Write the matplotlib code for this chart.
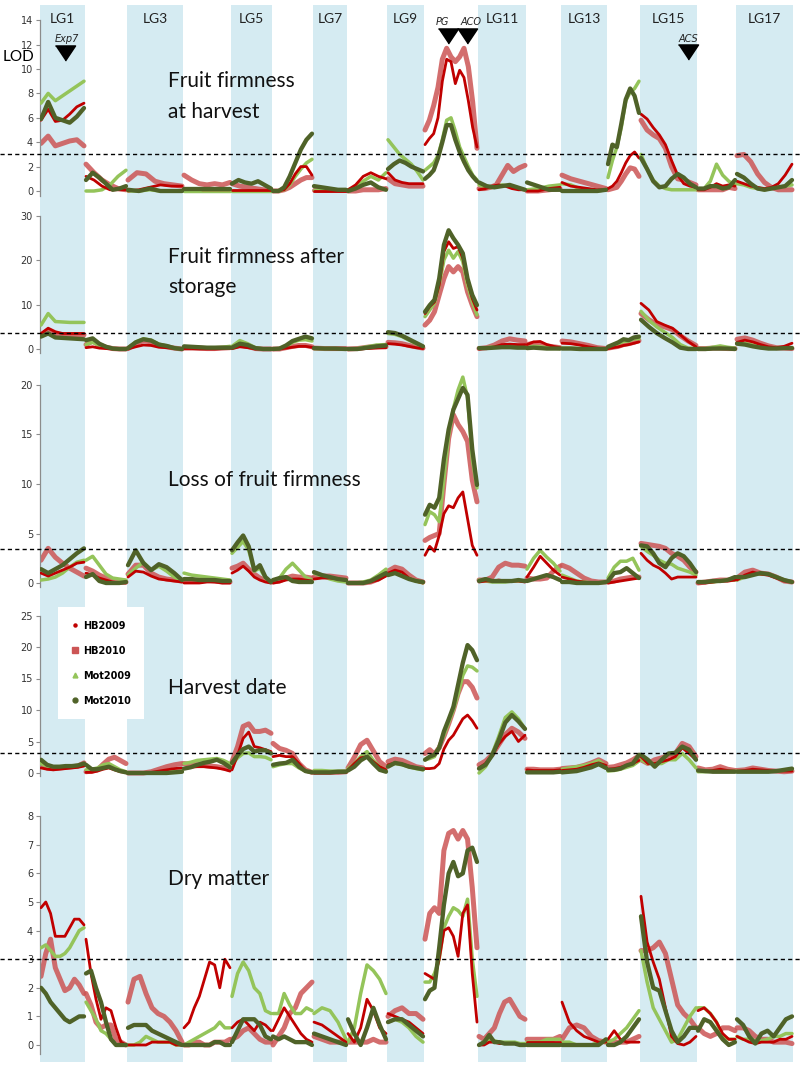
import matplotlib
matplotlib.use('Agg')
import matplotlib.pyplot as plt
import matplotlib.transforms as mtransforms
from matplotlib.lines import Line2D
import numpy as np

# ===================== linkage groups =====================
lg_names = [f'LG{i}' for i in range(1, 18)]
lg_length = [45, 42, 56, 48, 41, 41, 34, 40, 37, 54, 48, 35, 46, 33, 57, 39, 57]
series_names = ['HB2009', 'HB2010', 'Mot2009', 'Mot2010']

# gene markers on the map
gene_names = ['Exp7', 'PG', 'ACO', 'ACS']
gene_pos = [65, 448, 467, 688]

# ===================== Fruit firmness at harvest =====================
ffh_hb2009 = [[5.8, 6.7, 5.7, 5.8, 6.3, 6.9, 7.2], [1.2, 0.9, 0.4, 0.1, 0.1, 0.1], [0.0, 0.1, 0.3, 0.5, 0.4, 0.4],
              [0.2, 0.2, 0.1, 0.1, 0.1, 0.1], [0.1, 0.1, 0.1, 0.1, 0.1], [0.0, 0.0, 0.1, 0.6, 1.4, 2.0, 2.0, 1.3],
              [0.0, 0.0, 0.0, 0.0, 0.0], [0.1, 0.5, 1.2, 1.5, 1.2, 1.0], [1.5, 0.9, 0.7, 0.6, 0.6, 0.6],
              [3.8, 4.3, 4.7, 6.0, 9.0, 10.8, 10.6, 8.8, 9.9, 9.3, 7.4, 5.2, 3.6], [0.1, 0.2, 0.4, 0.5, 0.4, 0.2, 0.1, 0.1],
              [0.0, 0.0, 0.2, 0.3], [0.7, 0.4, 0.3, 0.2, 0.1, 0.1], [0.2, 0.4, 0.8, 1.5, 2.3, 2.9, 3.2, 2.7],
              [6.3, 5.9, 5.2, 4.6, 3.8, 2.5, 1.3, 0.6, 0.4, 0.3], [0.1, 0.1, 0.3, 0.6, 0.4, 0.5, 0.4],
              [0.8, 0.6, 0.4, 0.3, 0.2, 0.3, 0.6, 1.3, 2.2]]
ffh_hb2010 = [[3.9, 4.5, 3.7, 3.9, 4.1, 4.2, 3.7], [2.2, 1.5, 0.9, 0.5, 0.2, 0.1], [0.9, 1.5, 1.4, 0.8, 0.6, 0.5, 0.4],
              [1.3, 0.9, 0.6, 0.5, 0.6, 0.5, 0.7], [0.6, 0.4, 0.3, 0.2, 0.1, 0.1], [0.0, 0.0, 0.1, 0.3, 0.6, 0.9, 1.1, 1.1],
              [0.1, 0.1, 0.1, 0.1, 0.1], [0.0, 0.0, 0.1, 0.1, 0.1, 0.2], [1.0, 0.6, 0.5, 0.4, 0.4, 0.4],
              [5.0, 5.8, 7.0, 8.5, 10.8, 11.7, 11.0, 10.6, 11.0, 11.7, 10.2, 7.3, 3.5], [0.2, 0.2, 0.3, 0.5, 1.3, 2.1, 1.6, 1.9, 2.1],
              [0.0, 0.0, 0.1, 0.2], [1.3, 1.0, 0.8, 0.6, 0.4, 0.2], [0.1, 0.2, 0.3, 0.8, 1.4, 1.9, 1.8, 1.2],
              [5.8, 5.0, 4.6, 4.3, 3.5, 2.0, 1.0, 0.9, 0.7, 0.5], [0.1, 0.1, 0.1, 0.1, 0.1, 0.3, 0.2],
              [2.9, 3.0, 2.4, 1.4, 0.7, 0.3, 0.1, 0.1, 0.1]]
ffh_mot2009 = [[7.2, 8.0, 7.4, 7.8, 8.2, 8.6, 9.0], [0.0, 0.0, 0.1, 0.5, 1.2, 1.7], [0.0, 0.0, 0.1, 0.0, 0.0, 0.0],
               [0.0, 0.0, 0.0, 0.0, 0.0, 0.0], [0.0, 0.0, 0.0, 0.0, 0.0], [0.0, 0.0, 0.1, 0.5, 1.2, 1.8, 2.3, 2.6],
               [0.1, 0.1, 0.1, 0.1, 0.1], [0.1, 0.3, 0.8, 1.2, 0.9, 1.5], [4.2, 3.6, 3.0, 2.6, 2.2, 1.6, 0.9],
               [1.7, 2.0, 2.3, 2.9, 4.2, 5.8, 6.0, 4.9, 3.6, 2.8, 2.0, 1.3, 0.9], [0.5, 0.3, 0.3, 0.5, 0.4, 0.2, 0.1],
               [0.1, 0.2, 0.4, 0.5], [0.6, 0.5, 0.2, 0.1, 0.0, 0.1], [1.1, 2.5, 3.6, 5.2, 7.4, 8.1, 8.4, 9.0],
               [3.0, 1.8, 0.9, 0.4, 0.2, 0.1, 0.1, 0.1, 0.1, 0.1], [0.1, 0.2, 0.8, 2.2, 1.3, 0.8, 0.5],
               [0.6, 0.5, 0.3, 0.2, 0.1, 0.2, 0.3, 0.4, 0.5]]
ffh_mot2010 = [[5.9, 7.3, 6.0, 5.8, 5.6, 6.1, 6.8], [0.9, 1.5, 1.1, 0.6, 0.1, 0.2, 0.4], [0.1, 0.0, 0.2, 0.0, 0.0, 0.0],
               [0.2, 0.2, 0.2, 0.2, 0.2, 0.2], [0.6, 0.9, 0.7, 0.6, 0.8, 0.5, 0.2], [0.0, 0.0, 0.3, 1.2, 2.3, 3.4, 4.2, 4.7],
               [0.4, 0.3, 0.2, 0.1, 0.1], [0.0, 0.2, 0.5, 0.7, 0.3, 0.1], [1.8, 2.2, 2.5, 2.3, 2.0, 1.8, 1.6],
               [1.0, 1.3, 1.7, 2.7, 4.0, 5.4, 5.4, 4.2, 3.2, 2.4, 1.7, 1.2, 0.8], [0.7, 0.4, 0.3, 0.4, 0.5, 0.3, 0.1],
               [0.7, 0.4, 0.1, 0.1], [0.0, 0.0, 0.0, 0.0, 0.0, 0.1], [2.2, 3.8, 3.6, 5.5, 7.5, 8.4, 7.8, 6.4],
               [2.7, 1.8, 0.8, 0.3, 0.4, 1.0, 1.4, 1.1, 0.6, 0.3], [0.2, 0.2, 0.4, 0.4, 0.2, 0.3, 0.9],
               [1.4, 1.1, 0.6, 0.2, 0.1, 0.2, 0.3, 0.4, 0.9]]

# ===================== Fruit firmness after storage =====================
ffs_hb2009 = [[3.5, 4.7, 3.9, 3.5, 3.5, 3.5, 3.5], [0.3, 0.5, 0.2, 0.1, 0.0, 0.0, 0.0], [0.0, 0.5, 0.9, 0.8, 0.4, 0.3, 0.1, 0.0],
              [0.1, 0.1, 0.0, 0.0, 0.0, 0.1, 0.2], [0.1, 0.5, 0.3, 0.0, 0.0, 0.0], [0.0, 0.0, 0.2, 0.4, 0.6, 0.6, 0.4],
              [0.1, 0.1, 0.0, 0.0], [0.0, 0.0, 0.1, 0.2, 0.3], [1.2, 1.1, 0.9, 0.6, 0.3, 0.1],
              [8.0, 9.6, 10.6, 14.4, 22.0, 24.2, 22.7, 23.1, 20.5, 15.2, 11.4, 8.8], [0.0, 0.2, 0.5, 1.0, 1.1, 1.0, 1.0],
              [1.0, 1.6, 1.7, 1.0, 0.6, 0.3], [1.3, 1.2, 0.9, 0.5, 0.2, 0.0], [0.1, 0.3, 0.5, 0.8, 1.0, 1.3, 1.6],
              [10.3, 8.8, 6.2, 5.4, 4.7, 3.2, 1.7, 0.5], [0.0, 0.0, 0.1, 0.2, 0.1, 0.0], [1.5, 2.0, 1.6, 1.0, 0.5, 0.3, 0.6, 1.3]]
ffs_hb2010 = [[3.0, 4.2, 3.3, 3.2, 3.2, 3.2, 3.2], [1.0, 1.8, 0.9, 0.4, 0.1, 0.0, 0.0], [0.1, 1.2, 1.9, 1.6, 0.8, 0.5, 0.2, 0.0],
              [0.2, 0.2, 0.2, 0.1, 0.1, 0.2, 0.3], [0.3, 0.9, 0.6, 0.1, 0.0, 0.0], [0.0, 0.0, 0.3, 0.6, 0.8, 0.8, 0.5],
              [0.2, 0.1, 0.1, 0.1], [0.0, 0.1, 0.4, 0.6, 0.5], [1.5, 1.4, 1.2, 0.8, 0.5, 0.2],
              [5.4, 6.5, 8.4, 12.2, 15.9, 18.6, 17.4, 18.6, 17.4, 12.9, 9.9, 7.3], [0.1, 0.3, 0.9, 1.8, 2.3, 2.0, 1.8],
              [1.0, 1.3, 1.0, 0.7, 0.5, 0.3], [1.8, 1.6, 1.2, 0.8, 0.3, 0.1], [0.2, 0.4, 0.6, 1.0, 1.2, 1.5, 1.9],
              [8.0, 6.6, 5.5, 5.0, 4.4, 3.0, 1.8, 0.8], [0.1, 0.1, 0.2, 0.2, 0.1, 0.1], [2.2, 2.5, 2.0, 1.3, 0.7, 0.3, 0.2, 0.1]]
ffs_mot2009 = [[5.4, 8.0, 6.2, 6.1, 6.0, 6.0, 6.0], [1.0, 1.5, 0.8, 0.4, 0.1, 0.0, 0.0], [0.2, 1.6, 2.3, 2.0, 1.1, 0.7, 0.2, 0.0],
               [0.4, 0.4, 0.3, 0.3, 0.3, 0.4, 0.6], [0.6, 1.9, 1.2, 0.3, 0.0, 0.0], [0.0, 0.1, 0.6, 1.5, 2.0, 2.1, 1.8],
               [0.1, 0.1, 0.1, 0.0], [0.0, 0.1, 0.5, 0.9, 1.0], [3.5, 3.3, 2.8, 2.0, 1.2, 0.5],
               [7.3, 8.8, 10.3, 14.4, 20.1, 22.3, 20.5, 22.0, 19.7, 14.4, 10.7, 7.7], [0.2, 0.3, 0.5, 0.6, 0.7, 0.5, 0.4],
               [0.3, 0.6, 0.5, 0.3, 0.2, 0.1], [0.2, 0.2, 0.1, 0.0, 0.0, 0.0], [0.4, 0.8, 1.2, 1.7, 1.8, 2.3, 2.3],
               [8.5, 6.5, 5.0, 3.8, 2.6, 1.0, 0.2, 0.1], [0.1, 0.1, 0.4, 0.7, 0.4, 0.2], [1.4, 1.3, 0.9, 0.5, 0.3, 0.3, 0.3, 0.3]]
ffs_mot2010 = [[2.8, 3.5, 2.6, 2.5, 2.4, 2.3, 2.2], [2.0, 2.4, 1.2, 0.5, 0.1, 0.0, 0.0], [0.2, 1.5, 2.2, 1.9, 1.0, 0.7, 0.2, 0.0],
               [0.6, 0.5, 0.4, 0.3, 0.3, 0.3, 0.3], [0.3, 1.2, 0.9, 0.2, 0.0, 0.0], [0.0, 0.1, 0.8, 1.8, 2.3, 2.8, 2.4],
               [0.2, 0.1, 0.1, 0.0], [0.0, 0.0, 0.3, 0.6, 0.8], [3.8, 3.6, 3.0, 2.2, 1.4, 0.6],
               [8.4, 9.9, 11.1, 15.9, 23.5, 26.8, 25.0, 23.5, 21.6, 15.9, 12.2, 9.9], [0.2, 0.2, 0.3, 0.4, 0.4, 0.3, 0.3],
               [0.2, 0.3, 0.2, 0.1, 0.1, 0.1], [0.1, 0.1, 0.0, 0.0, 0.0, 0.0], [0.5, 1.0, 1.5, 2.2, 2.0, 2.6, 2.8],
               [6.6, 5.0, 3.6, 2.5, 1.5, 0.3, 0.0, 0.0], [0.0, 0.0, 0.1, 0.1, 0.1, 0.0], [1.2, 1.0, 0.6, 0.3, 0.1, 0.1, 0.2, 0.2]]

# ===================== Loss of fruit firmness =====================
loss_hb2009 = [[1.0, 0.7, 1.0, 1.3, 1.6, 2.0, 2.1], [1.0, 0.8, 0.5, 0.3, 0.1, 0.0, 0.0], [0.6, 1.2, 1.1, 0.7, 0.4, 0.3, 0.2, 0.1],
               [0.0, 0.0, 0.0, 0.1, 0.1, 0.0, 0.0], [1.0, 1.3, 1.7, 1.2, 0.6, 0.3, 0.1, 0.0], [0.0, 0.1, 0.3, 0.4, 0.4, 0.3, 0.2],
               [0.4, 0.5, 0.5, 0.4, 0.3], [0.0, 0.0, 0.0, 0.1, 0.3, 0.7], [1.0, 1.3, 1.1, 0.5, 0.2, 0.0],
               [2.8, 3.7, 3.2, 4.8, 7.0, 7.8, 7.6, 8.6, 9.2, 6.5, 3.8, 2.8], [0.1, 0.2, 0.2, 0.3, 0.2, 0.2, 0.2, 0.1],
               [0.6, 1.6, 2.7, 2.0, 1.3, 0.8], [0.6, 0.4, 0.2, 0.1, 0.0, 0.0, 0.1], [0.0, 0.1, 0.2, 0.3, 0.4, 0.5],
               [3.0, 2.3, 1.8, 1.5, 1.0, 0.4, 0.6, 0.6, 0.6, 0.6], [0.0, 0.0, 0.1, 0.2, 0.2, 0.3],
               [0.3, 0.8, 1.1, 0.9, 0.8, 0.5, 0.2, 0.1]]
loss_hb2010 = [[2.3, 3.5, 2.6, 2.0, 1.5, 1.1, 0.7], [1.5, 1.2, 0.8, 0.5, 0.2, 0.1, 0.1], [0.9, 1.8, 1.8, 1.0, 0.6, 0.4, 0.3, 0.2],
               [0.2, 0.2, 0.3, 0.3, 0.2, 0.1, 0.1], [1.5, 1.7, 2.0, 1.4, 0.9, 0.5, 0.3, 0.1], [0.1, 0.2, 0.5, 0.7, 0.6, 0.6, 0.5],
               [0.6, 0.7, 0.7, 0.6, 0.5], [0.0, 0.0, 0.0, 0.1, 0.4, 0.9], [1.2, 1.6, 1.4, 0.8, 0.3, 0.1],
               [4.3, 4.6, 4.8, 5.0, 10.0, 14.6, 17.0, 16.0, 15.3, 14.3, 10.4, 8.2], [0.3, 0.3, 0.6, 1.6, 2.0, 1.8, 1.8, 1.7],
               [0.5, 0.4, 0.4, 0.5, 1.2, 1.7], [1.8, 1.5, 1.0, 0.5, 0.2, 0.1, 0.1], [0.1, 0.2, 0.4, 0.5, 0.6, 0.6],
               [4.0, 3.9, 3.8, 3.7, 3.5, 3.0, 2.7, 2.3, 1.6, 1.1], [0.0, 0.1, 0.2, 0.3, 0.3, 0.4],
               [0.5, 1.1, 1.3, 1.0, 0.9, 0.6, 0.2, 0.1]]
loss_mot2009 = [[0.3, 0.4, 0.6, 1.0, 1.6, 2.1, 2.3], [2.3, 2.7, 1.8, 0.9, 0.5, 0.4, 0.3], [0.8, 1.5, 2.1, 1.3, 1.7, 1.2, 0.6, 0.2],
                [1.0, 0.8, 0.7, 0.6, 0.5, 0.4, 0.3], [3.0, 3.6, 4.2, 3.3, 1.2, 1.5, 0.5, 0.1], [0.2, 0.5, 1.4, 2.0, 1.3, 0.6, 0.3],
                [1.0, 0.7, 0.4, 0.2, 0.1], [0.0, 0.0, 0.1, 0.3, 0.8, 1.4], [0.9, 1.1, 0.8, 0.5, 0.2, 0.0],
                [5.9, 7.2, 6.9, 6.2, 10.5, 14.9, 17.6, 19.5, 20.8, 18.7, 12.5, 9.6], [0.3, 0.2, 0.1, 0.1, 0.1, 0.2, 0.2, 0.2],
                [1.4, 2.5, 3.3, 2.6, 2.0, 1.2], [0.8, 0.5, 0.2, 0.1, 0.0, 0.0, 0.1], [0.5, 1.6, 2.2, 2.2, 2.5, 1.3],
                [3.7, 3.2, 2.8, 2.3, 2.0, 1.9, 1.5, 1.3, 1.1, 0.8], [0.1, 0.1, 0.1, 0.2, 0.3, 0.3],
                [0.3, 0.6, 0.9, 0.9, 0.9, 0.6, 0.3, 0.1]]
loss_mot2010 = [[1.4, 1.0, 1.4, 1.8, 2.4, 3.0, 3.5], [0.6, 0.9, 0.2, 0.0, 0.0, 0.0, 0.1], [1.8, 3.3, 2.0, 1.3, 1.9, 1.6, 1.0, 0.3],
                [0.4, 0.4, 0.3, 0.3, 0.3, 0.2, 0.2], [3.3, 4.1, 4.8, 3.7, 1.3, 1.8, 0.6, 0.1], [0.3, 0.5, 0.6, 0.2, 0.1, 0.1, 0.1],
                [1.1, 0.8, 0.6, 0.4, 0.3], [0.0, 0.0, 0.0, 0.2, 0.6, 1.0], [0.8, 1.0, 0.7, 0.4, 0.2, 0.1],
                [6.9, 7.9, 7.6, 8.6, 12.5, 15.5, 17.5, 18.6, 19.7, 19.0, 13.5, 9.9], [0.2, 0.4, 0.2, 0.2, 0.2, 0.2, 0.3, 0.2],
                [0.2, 0.4, 0.6, 0.8, 0.6, 0.3], [0.1, 0.1, 0.0, 0.0, 0.0, 0.0, 0.1], [0.2, 1.0, 1.1, 1.5, 1.0, 0.5],
                [3.8, 3.7, 3.0, 2.0, 1.6, 2.5, 3.0, 2.7, 2.0, 1.1], [0.1, 0.1, 0.2, 0.2, 0.3, 0.6],
                [0.6, 0.6, 0.8, 1.0, 0.9, 0.6, 0.3, 0.1]]

# ===================== Harvest date =====================
hd_hb2009 = [[0.8, 0.6, 0.5, 0.6, 0.7, 0.8, 0.9, 1.1], [0.1, 0.1, 0.3, 0.6, 0.8, 0.5, 0.2, 0.1], [0.0, 0.0, 0.0, 0.1, 0.3, 0.5, 0.7, 0.8],
             [0.7, 0.9, 1.0, 1.0, 0.9, 0.8, 0.6, 0.3], [0.5, 2.8, 5.5, 6.5, 4.2, 4.0, 3.7, 3.4], [2.6, 2.8, 2.6, 2.6, 1.5, 0.3, 0.1],
             [0.0, 0.0, 0.0, 0.1, 0.1], [0.5, 1.5, 2.4, 2.6, 1.8, 1.0, 0.5], [1.3, 1.6, 1.4, 1.1, 0.8, 0.6],
             [0.7, 0.7, 0.8, 1.5, 3.8, 5.2, 6.0, 7.3, 8.6, 9.2, 8.3, 7.1], [0.8, 1.5, 2.9, 4.6, 5.8, 6.6, 5.0, 6.0],
             [0.5, 0.4, 0.4, 0.4, 0.4, 0.5], [0.4, 0.5, 0.6, 0.9, 1.3, 1.6, 1.2], [0.6, 0.7, 0.9, 1.2, 1.5, 2.0],
             [2.6, 1.5, 1.5, 1.8, 2.1, 2.6, 4.0, 3.1, 2.1], [0.4, 0.3, 0.4, 0.6, 0.4, 0.3], [0.3, 0.4, 0.6, 0.5, 0.4, 0.3, 0.3, 0.3]]
hd_hb2010 = [[1.3, 0.8, 0.7, 0.8, 0.9, 1.0, 1.1, 1.6], [0.2, 0.3, 0.5, 1.4, 2.2, 2.5, 2.0, 1.5], [0.0, 0.0, 0.0, 0.2, 0.6, 1.0, 1.3, 1.5],
             [1.5, 1.4, 1.3, 1.2, 1.1, 1.0, 0.8, 0.6], [1.8, 4.2, 7.4, 7.8, 6.6, 6.6, 6.8, 6.3], [4.7, 3.9, 3.6, 3.1, 1.5, 0.5, 0.1],
             [0.1, 0.1, 0.1, 0.1, 0.2], [0.8, 2.5, 4.5, 5.2, 3.5, 1.8, 1.0], [1.8, 2.2, 2.0, 1.5, 1.0, 0.8],
             [3.1, 3.7, 3.0, 4.0, 5.8, 7.8, 10.0, 12.6, 14.5, 14.5, 13.6, 11.9], [1.3, 1.9, 2.9, 4.5, 6.1, 7.1, 6.5, 5.5],
             [0.6, 0.6, 0.5, 0.5, 0.5, 0.6], [0.7, 0.8, 0.9, 1.2, 1.6, 2.1, 1.5], [0.9, 1.0, 1.3, 1.6, 2.1, 2.7],
             [2.1, 1.5, 2.1, 2.4, 2.8, 3.1, 4.7, 4.2, 2.6], [0.8, 0.5, 0.6, 1.0, 0.6, 0.4], [0.4, 0.5, 0.8, 0.6, 0.4, 0.3, 0.2, 0.3]]
hd_mot2009 = [[1.5, 1.1, 1.0, 1.0, 1.0, 1.1, 1.2, 1.3], [0.5, 0.6, 0.8, 1.3, 1.5, 1.0, 0.5, 0.2], [0.0, 0.0, 0.0, 0.0, 0.0, 0.1, 0.2, 0.3],
              [1.5, 1.7, 2.0, 2.1, 2.2, 2.3, 2.0, 1.5], [1.4, 2.4, 3.1, 3.2, 2.6, 2.6, 2.5, 2.1], [1.0, 1.3, 1.5, 1.5, 0.8, 0.3, 0.1],
              [0.4, 0.4, 0.3, 0.3, 0.3], [0.7, 1.5, 2.6, 3.4, 2.0, 1.0, 0.4], [1.2, 1.5, 1.3, 1.0, 0.7, 0.5],
              [2.1, 2.3, 2.6, 4.2, 6.0, 8.0, 10.0, 12.5, 15.5, 17.0, 16.8, 16.2], [0.0, 1.0, 3.0, 5.8, 8.8, 9.7, 8.6, 7.0],
              [0.2, 0.2, 0.3, 0.3, 0.3, 0.4], [0.6, 0.8, 1.0, 1.2, 1.5, 2.0, 1.0], [0.3, 0.4, 0.6, 0.9, 1.2, 1.9],
              [2.1, 1.5, 1.5, 1.5, 2.1, 2.1, 3.1, 2.1, 0.8], [0.2, 0.2, 0.3, 0.3, 0.3, 0.3], [0.3, 0.3, 0.3, 0.3, 0.3, 0.3, 0.4, 0.5]]
hd_mot2010 = [[2.1, 1.3, 1.0, 1.0, 1.1, 1.1, 1.2, 1.5], [1.3, 0.6, 0.6, 0.8, 1.0, 0.6, 0.3, 0.1], [0.0, 0.0, 0.0, 0.0, 0.0, 0.0, 0.1, 0.2],
              [0.7, 0.9, 1.3, 1.6, 1.8, 2.1, 1.6, 0.9], [1.6, 2.8, 3.8, 4.2, 3.4, 3.6, 3.6, 3.1], [1.3, 1.5, 1.6, 2.1, 1.0, 0.3, 0.1],
              [0.1, 0.1, 0.1, 0.2, 0.2], [0.4, 1.0, 2.0, 2.6, 1.5, 0.5, 0.2], [1.0, 1.6, 1.4, 1.0, 0.8, 0.6],
              [2.1, 2.6, 2.9, 4.0, 6.6, 8.5, 10.5, 14.0, 17.5, 20.3, 19.5, 17.9], [0.7, 1.3, 2.8, 5.2, 8.0, 9.2, 8.2, 7.0],
              [0.1, 0.1, 0.1, 0.1, 0.1, 0.2], [0.1, 0.2, 0.3, 0.6, 0.9, 1.4, 0.8], [0.5, 0.5, 0.7, 1.2, 1.5, 2.9],
              [2.9, 2.1, 1.0, 2.1, 3.1, 3.2, 4.2, 3.7, 2.1], [0.4, 0.3, 0.2, 0.2, 0.2, 0.2], [0.2, 0.2, 0.2, 0.2, 0.2, 0.3, 0.5, 0.7]]

# ===================== Dry matter =====================
dm_hb2009 = [[4.8, 5.0, 4.6, 3.8, 3.8, 3.8, 4.1, 4.4, 4.4, 4.2], [3.7, 2.5, 1.6, 0.9, 1.3, 1.2, 0.6, 0.1, 0.0],
             [0.0, 0.0, 0.0, 0.0, 0.1, 0.1, 0.1, 0.1, 0.0, 0.0], [0.6, 0.8, 1.3, 1.7, 2.3, 2.9, 2.8, 2.0, 3.0, 2.7],
             [0.6, 0.8, 0.9, 0.7, 0.5, 0.8, 0.7, 0.5], [0.5, 0.9, 1.3, 1.0, 0.7, 0.4, 0.2, 0.1], [0.8, 0.7, 0.5, 0.3, 0.1],
             [0.4, 0.1, 0.6, 1.6, 1.2, 0.6, 0.4], [1.1, 1.0, 0.9, 0.8, 0.6, 0.4],
             [2.5, 2.4, 2.3, 3.0, 4.0, 4.1, 3.8, 3.1, 4.6, 4.9, 2.5, 0.8], [0.0, 0.0, 0.1, 0.1, 0.05, 0.05, 0.05, 0.05, 0.0, 0.0],
             [0.1, 0.1, 0.1, 0.1, 0.1, 0.1], [1.5, 0.8, 0.5, 0.3, 0.2, 0.1, 0.1], [0.2, 0.5, 0.2, 0.1, 0.1, 0.1],
             [5.2, 3.6, 2.9, 2.3, 1.3, 0.3, 0.05, 0.0, 0.1, 0.3], [1.2, 1.3, 1.1, 0.8, 0.4, 0.2, 0.2],
             [0.3, 0.2, 0.1, 0.05, 0.1, 0.1, 0.1, 0.2, 0.2, 0.3]]
dm_hb2010 = [[2.4, 3.2, 3.7, 2.7, 2.3, 1.9, 2.0, 2.3, 2.1, 1.8], [1.8, 1.4, 0.8, 0.6, 0.7, 0.7, 0.2, 0.1, 0.0],
             [1.5, 2.3, 2.4, 1.8, 1.3, 1.1, 1.0, 0.8, 0.5, 0.1], [0.0, 0.0, 0.1, 0.1, 0.0, 0.0, 0.1, 0.1, 0.1, 0.2],
             [0.2, 0.3, 0.5, 0.6, 0.4, 0.2, 0.1, 0.1], [0.0, 0.3, 0.6, 1.1, 1.3, 1.8, 2.0, 2.2], [0.3, 0.2, 0.1, 0.1, 0.1],
             [0.1, 0.1, 0.1, 0.1, 0.2, 0.1, 0.1], [1.0, 1.2, 1.3, 1.1, 1.1, 0.9],
             [3.7, 4.6, 4.8, 4.6, 6.8, 7.4, 7.5, 7.2, 7.5, 7.2, 5.5, 3.4], [0.3, 0.2, 0.4, 0.6, 1.1, 1.5, 1.6, 1.3, 1.0, 0.9],
             [0.2, 0.2, 0.2, 0.2, 0.2, 0.3], [0.2, 0.6, 0.7, 0.6, 0.3, 0.15, 0.1], [0.1, 0.1, 0.1, 0.1, 0.2, 0.3],
             [3.3, 3.3, 3.4, 3.6, 3.2, 2.3, 1.4, 1.1, 0.9, 0.6], [0.6, 0.4, 0.3, 0.4, 0.6, 0.6, 0.5],
             [0.6, 0.6, 0.5, 0.3, 0.2, 0.2, 0.1, 0.1, 0.1, 0.05]]
dm_mot2009 = [[3.4, 3.5, 3.3, 3.1, 3.1, 3.2, 3.4, 3.7, 4.0, 4.1], [1.5, 1.2, 0.9, 0.5, 0.4, 0.2, 0.0, 0.0, 0.0],
              [0.0, 0.0, 0.1, 0.3, 0.2, 0.1, 0.1, 0.1, 0.0, 0.0], [0.0, 0.1, 0.2, 0.3, 0.4, 0.5, 0.6, 0.8, 0.6, 0.6],
              [1.7, 2.5, 2.9, 2.6, 2.0, 1.8, 1.2, 1.1], [1.1, 1.1, 1.8, 1.4, 1.1, 1.1, 1.3, 1.2], [1.1, 1.3, 1.2, 0.8, 0.2],
              [0.1, 0.6, 1.8, 2.8, 2.6, 2.3, 1.8], [0.8, 0.9, 0.8, 0.6, 0.3, 0.1],
              [2.2, 2.2, 2.5, 3.0, 4.1, 4.5, 4.8, 4.7, 4.5, 5.1, 3.0, 1.7], [0.0, 0.1, 0.2, 0.15, 0.1, 0.1, 0.1, 0.1, 0.05, 0.05],
              [0.1, 0.1, 0.1, 0.2, 0.2, 0.2], [0.1, 0.1, 0.0, 0.0, 0.0, 0.1, 0.1], [0.1, 0.2, 0.4, 0.6, 0.9, 1.2],
              [3.3, 2.2, 1.3, 0.9, 0.5, 0.1, 0.2, 0.6, 1.0, 1.3], [1.3, 1.3, 1.1, 0.8, 0.3, 0.2, 0.2],
              [0.3, 0.2, 0.2, 0.15, 0.15, 0.2, 0.3, 0.3, 0.4, 0.4]]
dm_mot2010 = [[2.0, 1.8, 1.5, 1.3, 1.1, 0.9, 0.8, 0.9, 1.0, 1.0], [2.5, 2.6, 2.0, 1.5, 0.8, 0.2, 0.0, 0.0, 0.0],
              [0.6, 0.7, 0.7, 0.7, 0.5, 0.4, 0.3, 0.2, 0.1, 0.0], [0.0, 0.0, 0.0, 0.0, 0.0, 0.0, 0.1, 0.1, 0.0, 0.0],
              [0.1, 0.5, 0.9, 0.9, 0.9, 0.7, 0.3, 0.2], [0.3, 0.2, 0.3, 0.2, 0.1, 0.1, 0.1, 0.0], [0.4, 0.3, 0.2, 0.1, 0.0],
              [0.9, 0.4, 0.0, 0.6, 1.3, 0.7, 0.2], [0.8, 0.9, 0.9, 0.7, 0.5, 0.3],
              [1.6, 1.9, 2.0, 3.4, 4.9, 6.0, 6.4, 5.9, 6.0, 6.8, 6.9, 6.4], [0.0, 0.1, 0.35, 0.1, 0.1, 0.05, 0.05, 0.05, 0.0, 0.0],
              [0.0, 0.0, 0.0, 0.0, 0.0, 0.0], [0.0, 0.0, 0.0, 0.0, 0.0, 0.0, 0.2], [0.0, 0.0, 0.1, 0.3, 0.6, 0.9],
              [4.5, 2.9, 2.0, 1.9, 1.2, 0.5, 0.1, 0.3, 0.6, 0.6], [0.5, 0.9, 0.8, 0.5, 0.2, 0.0, 0.1],
              [0.9, 0.7, 0.3, 0.05, 0.4, 0.5, 0.3, 0.6, 0.9, 1.0]]

panel_titles = [['Fruit firmness', 'at harvest'], ['Fruit firmness after', 'storage'],
                ['Loss of fruit firmness'], ['Harvest date'], ['Dry matter']]
thresholds = [3.0, 3.6, 3.4, 3.2, 3.0]
panel_data = [[ffh_hb2009, ffh_hb2010, ffh_mot2009, ffh_mot2010],
              [ffs_hb2009, ffs_hb2010, ffs_mot2009, ffs_mot2010],
              [loss_hb2009, loss_hb2010, loss_mot2009, loss_mot2010],
              [hd_hb2009, hd_hb2010, hd_mot2009, hd_mot2010],
              [dm_hb2009, dm_hb2010, dm_mot2009, dm_mot2010]]

# ===================== layout (pixels of an 800x1065 canvas) =====================
W, H = 800, 1065
# zero line pixel, pixels per LOD unit, y limits, y ticks, title baselines
panel_layout = [
    dict(y0=191, ppu=12.2, ylim=(-0.4, 14.3), ticks=range(0, 15, 2), tb=[87, 118]),
    dict(y0=349, ppu=4.43, ylim=(-0.8, 33.5), ticks=range(0, 31, 10), tb=[263, 293]),
    dict(y0=583, ppu=9.9, ylim=(-0.4, 22.0), ticks=range(0, 21, 5), tb=[486]),
    dict(y0=773, ppu=6.3, ylim=(-0.5, 25.2), ticks=range(0, 26, 5), tb=[694]),
    dict(y0=1045, ppu=28.6, ylim=(-0.3, 8.1), ticks=range(0, 9, 1), tb=[885]),
]

style = {
    'HB2009': dict(color='#c00000', lw=2.0, zorder=4),
    'HB2010': dict(color='#cc5555', lw=3.6, alpha=0.85, zorder=2),
    'Mot2009': dict(color='#94c45a', lw=2.5, zorder=3),
    'Mot2010': dict(color='#4f6228', lw=3.1, zorder=5),
}
band_color = '#d5ebf2'
title_font = 'Lato'

lg_start = 40 + np.concatenate([[0], np.cumsum(lg_length)[:-1]])
lg_end = lg_start + np.array(lg_length)

fig = plt.figure(figsize=(W / 100, H / 100), dpi=100)


def rect(top, bottom):
    return [40 / W, 1 - bottom / H, 760 / W, (bottom - top) / H]


# background bands for odd linkage groups
bg = fig.add_axes(rect(5, 1062))
bg.set_xlim(40, 800)
bg.set_ylim(0, 1)
bg.axis('off')
tr_bg = mtransforms.blended_transform_factory(bg.transData, fig.transFigure)
for i, name in enumerate(lg_names):
    if i % 2 == 0:
        bg.axvspan(lg_start[i], lg_end[i], color=band_color, lw=0)
        bg.text((lg_start[i] + lg_end[i]) / 2, 1 - 23 / H, name, transform=tr_bg,
                ha='center', va='baseline', fontsize=10, family=title_font, color='#222222')

axes = []
for p, lay in enumerate(panel_layout):
    ylo, yhi = lay['ylim']
    top = lay['y0'] - yhi * lay['ppu']
    bottom = lay['y0'] - ylo * lay['ppu']
    ax = fig.add_axes(rect(top, bottom))
    ax.set_xlim(40, 800)
    ax.set_ylim(ylo, yhi)
    ax.patch.set_visible(False)
    for s in ['top', 'right', 'bottom']:
        ax.spines[s].set_visible(False)
    ax.spines['left'].set_color('#8c8c8c')
    ax.spines['left'].set_linewidth(0.9)
    ax.spines['left'].set_bounds(ylo, lay['ticks'][-1])
    ax.set_xticks([])
    ax.set_yticks(list(lay['ticks']))
    ax.tick_params(axis='y', length=3, width=0.8, color='#8c8c8c', labelsize=7,
                   labelcolor='#333333', pad=2)

    # LOD curves, one segment per linkage group
    for sname, sdata in zip(series_names, panel_data[p]):
        for i, vals in enumerate(sdata):
            x = np.linspace(lg_start[i] + 1, lg_end[i] - 1, len(vals))
            ax.plot(x, vals, solid_capstyle='round', solid_joinstyle='round', **style[sname])

    # significance threshold
    ax.plot([0, 800], [thresholds[p], thresholds[p]], color='black', lw=1,
            ls=(0, (3, 2.3)), clip_on=False, zorder=6)

    tr = mtransforms.blended_transform_factory(ax.transData, fig.transFigure)
    for line, yb in zip(panel_titles[p], lay['tb']):
        ax.text(168, 1 - yb / H, line, transform=tr, fontsize=15, family=title_font,
                va='baseline', ha='left', color='#111111')
    axes.append(ax)

# LOD label, kept between the 12 and 10 tick labels
fig.text(3 / W, 1 - 61 / H, 'LOD', fontsize=11, family=title_font, va='baseline', ha='left')

# gene markers above the first panel
ax1 = axes[0]
tri = [(-1, 0.75), (1, 0.75), (0, -0.75)]
tr1 = mtransforms.blended_transform_factory(ax1.transData, fig.transFigure)
gene_rows = {'Exp7': (52.5, 39), 'PG': (35.5, 22), 'ACO': (35.5, 22), 'ACS': (52, 39)}
gene_dx = {'Exp7': 2, 'PG': -6, 'ACO': 4, 'ACS': 0}
for g, xg in zip(gene_names, gene_pos):
    ym, yt = gene_rows[g]
    ax1.plot([xg], [1 - ym / H], transform=tr1, marker=tri, ms=14.5, color='black',
             ls='none', clip_on=False, zorder=7)
    ax1.text(xg + gene_dx[g], 1 - yt / H, g, transform=tr1, fontsize=7, style='italic',
             ha='center', va='center', color='#222222')

# legend
handles = [
    Line2D([], [], ls='none', marker='o', ms=2.2, color=style['HB2009']['color']),
    Line2D([], [], ls='none', marker='s', ms=4, color=style['HB2010']['color']),
    Line2D([], [], ls='none', marker='^', ms=3.5, color=style['Mot2009']['color']),
    Line2D([], [], ls='none', marker='o', ms=3.5, color=style['Mot2010']['color']),
]
fig.legend(handles, series_names, loc='upper left', bbox_to_anchor=(58 / W, 1 - 607 / H),
           frameon=True, facecolor='white', edgecolor='none', framealpha=1, fancybox=False,
           prop={'weight': 'bold', 'size': 7}, handlelength=0.8, handletextpad=0.35,
           borderpad=1.4, labelspacing=1.55, borderaxespad=0)

fig.savefig('out.png', dpi=100)
